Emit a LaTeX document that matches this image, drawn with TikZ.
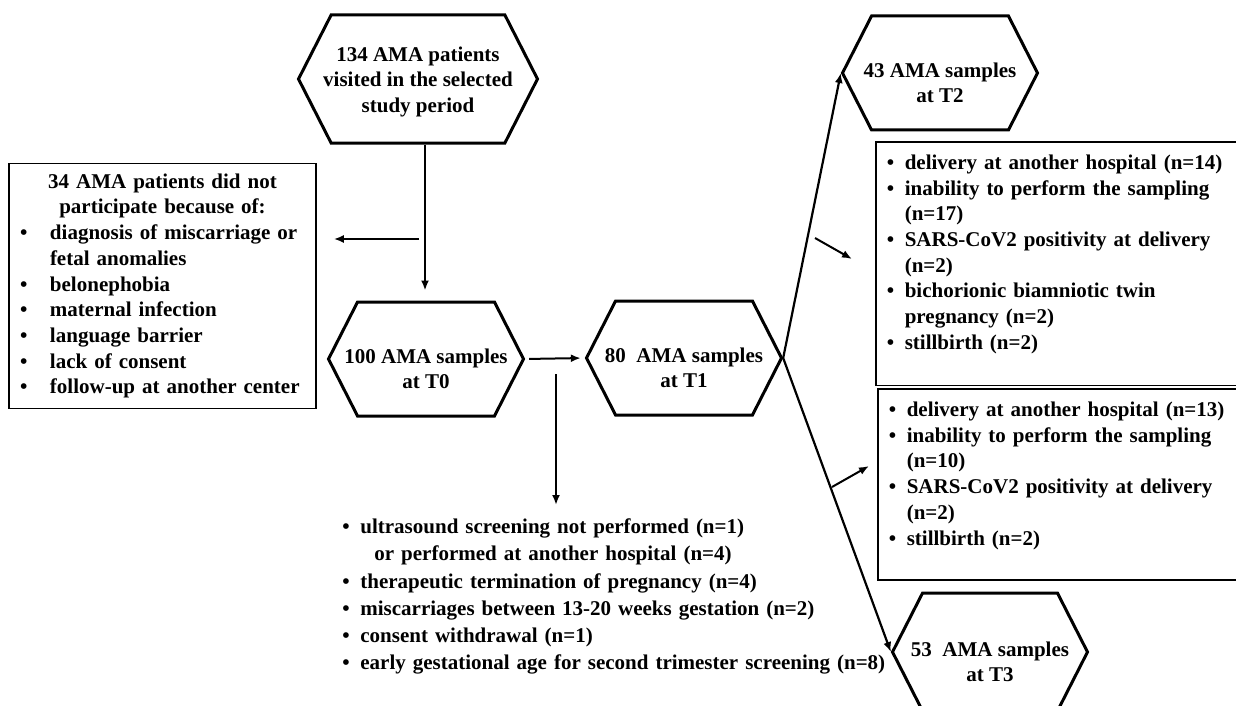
\documentclass[tikz,border=0pt]{standalone}
\usepackage{fontspec}
\setmainfont{Liberation Serif}
\usepackage{tikz}
\usetikzlibrary{shapes.symbols,arrows.meta}
\setlength{\parindent}{0pt}
\newcommand{\bul}[2][9pt]{\par\hangindent=#1\hangafter=1\noindent\makebox[#1][l]{\textbullet}#2}
\newcommand{\dn}[1][17pt]{\rule{0pt}{#1}}
\newcommand{\bottomgap}[1]{\rule[-#1]{0pt}{#1}}

\begin{document}
\begin{tikzpicture}[x=0.5pt, y=-0.5pt, >={Latex[length=5pt,width=4pt]}]
\tikzstyle{every node} = [font=\bfseries\fontsize{10.5}{12.85}\selectfont]
\tikzstyle{hex} = [draw, line width=1.5pt, signal, signal to=east and west, signal pointer angle=126, align=center, minimum width=97.5pt, minimum height=57pt, inner xsep=-20pt, inner ysep=0pt]
\tikzstyle{why} = [draw, line width=0.8pt, align=left, inner xsep=5.5pt, inner ysep=5pt]
\clip (0,0) rectangle (1236,706);

\node[hex, minimum width=119.5pt, minimum height=64pt] (h134) at (418,79) {\dn[10pt]134 AMA patients\\visited in the selected\\study period};
\node[hex] (h100) at (426,359) {\dn100 AMA samples\\at T0};
\node[hex] (h80) at (684,358) {\dn80\ \ AMA samples\\at T1};
\node[hex] (h43) at (940,73) {\dn43 AMA samples\\at T2};
\node[hex, minimum height=59pt] (h53) at (990,652) {\dn53\ \ AMA samples\\at T3};

\node[why, text width=142.5pt, minimum height=122pt] (excl0) at (162.5,286) {%
{\centering 34 AMA patients did not\\participate because of:\par}
\bul[15pt]{diagnosis of miscarriage or fetal anomalies}
\bul[15pt]{belonephobia}
\bul[15pt]{maternal infection}
\bul[15pt]{language barrier}
\bul[15pt]{lack of consent}
\bul[15pt]{follow-up at another center}};

\node[why, anchor=north west, text width=185pt, inner ysep=1pt] (excl2) at (875,141) {%
\bul{delivery at another hospital (n=14)}
\bul{inability to perform the sampling\newline(n=17)}
\bul{SARS-CoV2 positivity at delivery\newline(n=2)}
\bul{bichorionic biamniotic twin\newline pregnancy (n=2)}
\bul{stillbirth (n=2)\bottomgap{17pt}}};

\node[why, anchor=north west, text width=185pt, inner ysep=1pt] (excl3) at (877,388) {%
\bul{delivery at another hospital (n=13)}
\bul{inability to perform the sampling\newline(n=10)}
\bul{SARS-CoV2 positivity at delivery\newline(n=2)}
\bul{stillbirth (n=2)\bottomgap{16.5pt}}};

\node[anchor=north west, align=left, text width=290pt, inner sep=0pt, font=\bfseries\fontsize{10.5}{13.6}\selectfont] (t0why) at (342,506) {%
\bul{ultrasound screening not performed (n=1)\newline\hspace*{7pt}or performed at another hospital (n=4)}
\bul{therapeutic termination of pregnancy (n=4)}
\bul{miscarriages between 13-20 weeks gestation (n=2)}
\bul{consent withdrawal (n=1)}
\bul{early gestational age for second trimester screening (n=8)}};

\coordinate (split0) at (425,239);
\coordinate (split1) at (556,374);
\coordinate (s2) at (815,238);
\coordinate (e2) at (852,259);
\coordinate (s3) at (832,487);
\coordinate (e3) at (869,466);

\draw [->, line width=1pt, shorten >=5pt] (split0 |- h134.south) -- (split0 |- h100.north);
\draw [->, line width=1pt, shorten <=3pt, shorten >=8.5pt] (split0) -- (split0 -| excl0.east);
\draw [->, line width=1pt, shorten <=2pt, shorten >=2pt] (h100.east) -- (h80.west);
\draw [->, line width=1pt, shorten >=0.5pt] (split1) -- (split1 |- t0why.north);
\draw [->, line width=1.1pt] (h80.east) -- (h43.west);
\draw [->, line width=1.1pt] (h80.east) -- (h53.west);
\draw [->, line width=1pt] (s2) -- (e2);
\draw [->, line width=1pt] (s3) -- (e3);
\end{tikzpicture}
\end{document}
